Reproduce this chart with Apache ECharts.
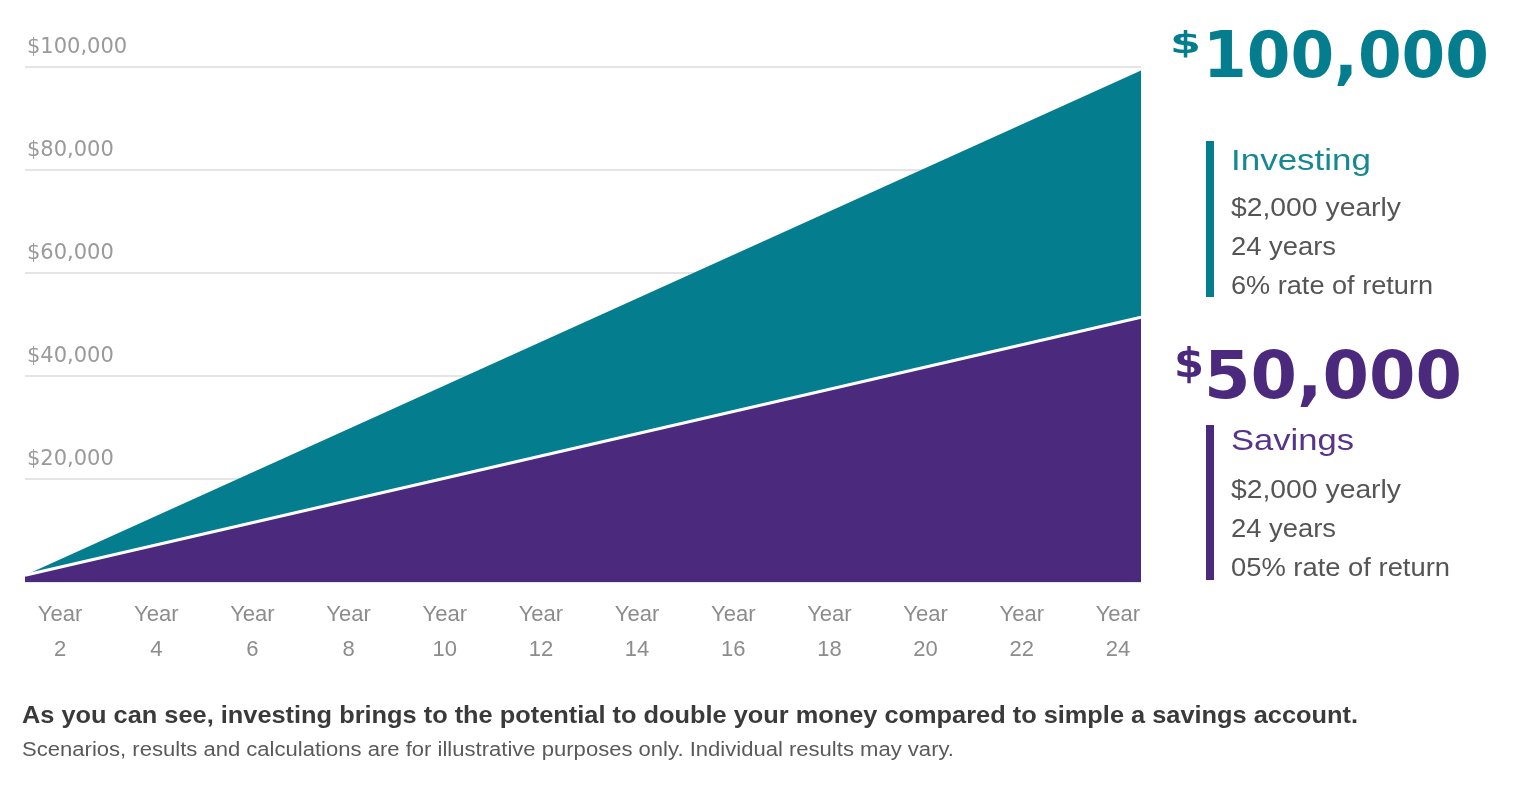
<!DOCTYPE html>
<html>
<head>
<meta charset="utf-8">
<script src="https://cdn.jsdelivr.net/npm/echarts@6/dist/echarts.min.js"></script>
<style>
html,body{margin:0;padding:0;background:#fff;}
#chart{width:1520px;height:799px;}
</style>
</head>
<body>
<div id="chart"></div>
<script>
// ---- data ----
const yearLabels = ['Year\n2','Year\n4','Year\n6','Year\n8','Year\n10','Year\n12','Year\n14','Year\n16','Year\n18','Year\n20','Year\n22','Year\n24'];
const pointYears = [0, 24];
const investingValues = [1300, 99300];
const savingsValues = [1300, 51400];
const investingLines = ['$2,000 yearly', '24 years', '6% rate of return'];
const savingsLines = ['$2,000 yearly', '24 years', '05% rate of return'];

const TEAL = '#047e8f';
const PURPLE = '#4b2a7e';
const GRAY = '#555555';
const FONT = '"Liberation Sans", Arial, sans-serif';
const HEAVY = '"DejaVu Sans", "Liberation Sans", sans-serif';

const ctx = document.createElement('canvas').getContext('2d');
function measure(text, font) { ctx.font = font; return ctx.measureText(text).width; }
function fitText(text, x, y, size, weight, color, width, family) {
  const font = weight + ' ' + size + 'px ' + (family || FONT);
  const w = measure(text, font);
  return {
    type: 'text', x: x, y: y, scaleX: width / w,
    style: { text: text, fill: color, font: font, textAlign: 'left', textVerticalAlign: 'middle' }
  };
}

const chart = echarts.init(document.getElementById('chart'));

const graphics = [
  // investing block
  fitText('$', 1170, 45, 30, 'bold', TEAL, 31, HEAVY),
  fitText('100,000', 1203, 60, 64, 'bold', TEAL, 286, HEAVY),
  { type: 'rect', shape: { x: 1206, y: 141, width: 8, height: 156 }, style: { fill: TEAL } },
  fitText('Investing', 1231, 162, 29, 'normal', '#168893', 140),
  fitText(investingLines[0], 1231, 209, 26, 'normal', GRAY, 170),
  fitText(investingLines[1], 1231, 248, 26, 'normal', GRAY, 105),
  fitText(investingLines[2], 1231, 287, 26, 'normal', GRAY, 202),
  // savings block
  fitText('$', 1174, 367, 40, 'bold', PURPLE, 30, HEAVY),
  fitText('50,000', 1204, 381, 66, 'bold', PURPLE, 258, HEAVY),
  { type: 'rect', shape: { x: 1206, y: 425, width: 8, height: 155 }, style: { fill: PURPLE } },
  fitText('Savings', 1231, 442, 29, 'normal', '#55348a', 123),
  fitText(savingsLines[0], 1231, 491, 26, 'normal', GRAY, 170),
  fitText(savingsLines[1], 1231, 530, 26, 'normal', GRAY, 105),
  fitText(savingsLines[2], 1231, 569, 26, 'normal', GRAY, 219),
  // footnotes
  fitText('As you can see, investing brings to the potential to double your money compared to simple a savings account.', 22, 716, 24, 'bold', '#3a3a3a', 1336),
  fitText('Scenarios, results and calculations are for illustrative purposes only. Individual results may vary.', 22, 750, 20, 'normal', '#5a5a5a', 932)
];

const option = {
  backgroundColor: '#ffffff',
  animation: false,
  grid: [
    { left: 25, right: 379, top: 67, bottom: 217, containLabel: false },
    { left: 12, right: 354, top: 67, bottom: 217, containLabel: false }
  ],
  xAxis: [
    { type: 'value', gridIndex: 0, min: 0, max: 24, show: false },
    {
      type: 'category', gridIndex: 1, data: yearLabels, boundaryGap: true,
      axisLine: { show: false }, axisTick: { show: false }, splitLine: { show: false },
      axisLabel: { color: '#8c8c8c', fontSize: 22, lineHeight: 35, margin: 15, fontFamily: FONT, interval: 0 }
    }
  ],
  yAxis: [
    {
      type: 'value', gridIndex: 0, min: 0, max: 100000, interval: 20000,
      axisLine: { show: false }, axisTick: { show: false },
      splitLine: { lineStyle: { color: '#dcdcdc', width: 1.5 } },
      axisLabel: {
        inside: true, margin: 2, color: '#9a9a9a', fontSize: 21, fontFamily: '"DejaVu Sans", sans-serif',
        verticalAlign: 'bottom', lineHeight: 22, padding: [0, 0, 8, 0],
        showMinLabel: false,
        formatter: function (v) { return v === 0 ? '' : '$' + v.toLocaleString('en-US'); }
      }
    },
    { type: 'value', gridIndex: 1, show: false, min: 0, max: 100000 }
  ],
  series: [
    {
      name: 'Investing', type: 'line', xAxisIndex: 0, yAxisIndex: 0,
      data: pointYears.map((y, i) => [y, investingValues[i]]),
      symbol: 'none', lineStyle: { width: 0, color: TEAL },
      areaStyle: { color: TEAL, opacity: 1 }, z: 2
    },
    {
      name: 'Savings', type: 'line', xAxisIndex: 0, yAxisIndex: 0,
      data: pointYears.map((y, i) => [y, savingsValues[i]]),
      symbol: 'none', lineStyle: { width: 3, color: '#ffffff' },
      areaStyle: { color: PURPLE, opacity: 1 }, z: 3
    }
  ],
  graphic: graphics
};
chart.setOption(option);
</script>
</body>
</html>
